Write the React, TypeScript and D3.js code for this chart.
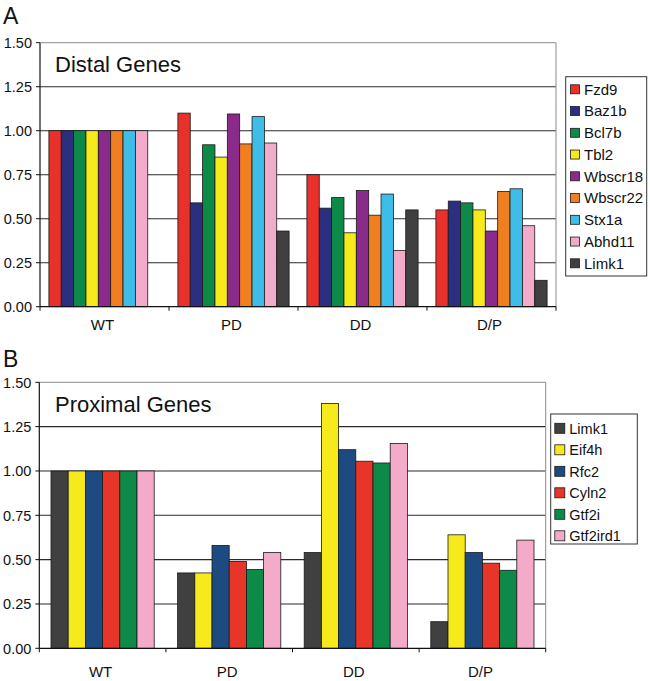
import React from "react";
import * as d3 from "d3";

const categories = ["WT", "PD", "DD", "D/P"];
const yTicks = [0, 0.25, 0.5, 0.75, 1.0, 1.25, 1.5];

// Panel A – distal genes (values per category: WT, PD, DD, D/P)
const distalGenes = ["Fzd9", "Baz1b", "Bcl7b", "Tbl2", "Wbscr18", "Wbscr22", "Stx1a", "Abhd11", "Limk1"];
const distalColors = ["#e8312a", "#2c2e80", "#0e8a48", "#f6ea1c", "#8a2b8c", "#f07f22", "#3fbde9", "#f2abc9", "#404040"];
const fzd9 = [1.0, 1.1, 0.75, 0.55];
const baz1b = [1.0, 0.59, 0.56, 0.6];
const bcl7b = [1.0, 0.92, 0.62, 0.59];
const tbl2 = [1.0, 0.85, 0.42, 0.55];
const wbscr18 = [1.0, 1.095, 0.66, 0.43];
const wbscr22 = [1.0, 0.925, 0.52, 0.655];
const stx1a = [1.0, 1.08, 0.64, 0.67];
const abhd11 = [1.0, 0.93, 0.32, 0.46];
const limk1Distal = [null, 0.43, 0.55, 0.15];
const distalValues = [fzd9, baz1b, bcl7b, tbl2, wbscr18, wbscr22, stx1a, abhd11, limk1Distal];

// Panel B – proximal genes
const proximalGenes = ["Limk1", "Eif4h", "Rfc2", "Cyln2", "Gtf2i", "Gtf2ird1"];
const proximalColors = ["#404040", "#f6ea1c", "#1e4a82", "#e8352a", "#0e8a48", "#f3abc9"];
const limk1 = [1.0, 0.425, 0.54, 0.15];
const eif4h = [1.0, 0.425, 1.38, 0.64];
const rfc2 = [1.0, 0.58, 1.12, 0.54];
const cyln2 = [1.0, 0.49, 1.055, 0.48];
const gtf2i = [1.0, 0.445, 1.045, 0.44];
const gtf2ird1 = [1.0, 0.54, 1.155, 0.61];
const proximalValues = [limk1, eif4h, rfc2, cyln2, gtf2i, gtf2ird1];

const FONT = "'Liberation Sans', Arial, Helvetica, sans-serif";

type PanelProps = {
  letter: string;
  letterY: number;
  title: string;
  titleY: number;
  genes: string[];
  colors: string[];
  values: (number | null)[][];
  x0: number;
  x1: number;
  yTop: number;
  yBottom: number;
  outerPad: number;
  catLabelY: number;
  legend: { x: number; y: number; w: number; h: number; sw: number; rowY: number; rowStep: number; textX: number; fs: number };
};

function Panel(p: PanelProps) {
  const x = d3.scaleBand<string>().domain(categories).range([p.x0, p.x1]).paddingInner(0).paddingOuter(0);
  const xs = d3.scaleBand<string>().domain(p.genes).range([0, x.bandwidth()]).paddingInner(0).paddingOuter(p.outerPad);
  const y = d3.scaleLinear().domain([0, 1.5]).range([p.yBottom, p.yTop]);
  const L = p.legend;
  return (
    <g>
      <text x={3} y={p.letterY} fontSize={23} fontFamily={FONT} fill="#111">{p.letter}</text>
      {/* gridlines */}
      {yTicks.filter((t) => t > 0 && t < 1.5).map((t) => (
        <line key={t} x1={p.x0} x2={p.x1} y1={y(t)} y2={y(t)} stroke="#2a2a2a" strokeWidth={1.1} />
      ))}
      {/* top and right border */}
      <line x1={p.x0} x2={p.x1} y1={y(1.5)} y2={y(1.5)} stroke="#8c8c8c" strokeWidth={1} />
      <line x1={p.x1} x2={p.x1} y1={y(1.5)} y2={y(0)} stroke="#8c8c8c" strokeWidth={1} />
      <text x={55} y={p.titleY} fontSize={22} fontFamily={FONT} fill="#111">{p.title}</text>
      {/* bars */}
      {categories.map((c, ci) =>
        p.genes.map((g, gi) => {
          const v = p.values[gi][ci];
          if (v == null) return null;
          return (
            <rect
              key={c + g}
              x={(x(c) as number) + (xs(g) as number)}
              y={y(v)}
              width={xs.bandwidth()}
              height={y(0) - y(v)}
              fill={p.colors[gi]}
              stroke="#1a1a1a"
              strokeWidth={0.8}
            />
          );
        })
      )}
      {/* y axis */}
      <line x1={p.x0} x2={p.x0} y1={y(1.5)} y2={y(0)} stroke="#111" strokeWidth={1.2} />
      {yTicks.map((t) => (
        <g key={t}>
          <line x1={p.x0 - 4} x2={p.x0} y1={y(t)} y2={y(t)} stroke="#111" strokeWidth={1} />
          <text x={p.x0 - 8} y={y(t)} dy="0.36em" textAnchor="end" fontSize={14.5} fontFamily={FONT} fill="#111">
            {t.toFixed(2)}
          </text>
        </g>
      ))}
      {/* x axis */}
      <line x1={p.x0} x2={p.x1} y1={y(0)} y2={y(0)} stroke="#111" strokeWidth={1.2} />
      {categories.map((c) => (
        <g key={c}>
          <line x1={(x(c) as number) + x.bandwidth()} x2={(x(c) as number) + x.bandwidth()} y1={y(0)} y2={y(0) + 4} stroke="#111" strokeWidth={1} />
          <text x={(x(c) as number) + x.bandwidth() / 2 - 2} y={p.catLabelY} textAnchor="middle" fontSize={15} fontFamily={FONT} fill="#111">
            {c}
          </text>
        </g>
      ))}
      <line x1={p.x0} x2={p.x0} y1={y(0)} y2={y(0) + 4} stroke="#111" strokeWidth={1} />
      {/* legend */}
      <rect x={L.x} y={L.y} width={L.w} height={L.h} fill="#fff" stroke="#333" strokeWidth={1} />
      {p.genes.map((g, gi) => {
        const cy = L.rowY + gi * L.rowStep;
        return (
          <g key={g}>
            <rect x={L.textX - L.sw - 4.5} y={cy - L.sw / 2} width={L.sw} height={L.sw} fill={p.colors[gi]} stroke="#1a1a1a" strokeWidth={0.8} />
            <text x={L.textX} y={cy} dy="0.36em" fontSize={L.fs} fontFamily={FONT} fill="#111">{g}</text>
          </g>
        );
      })}
    </g>
  );
}

export default function App() {
  return (
    <svg width={650} height={681} style={{ position: "absolute", left: 0, top: 0, background: "#fff" }}>
      <rect width={650} height={681} fill="#fff" />
      <Panel
        letter="A"
        letterY={24}
        title="Distal Genes"
        titleY={71.7}
        genes={distalGenes}
        colors={distalColors}
        values={distalValues}
        x0={40}
        x1={556}
        yTop={42.7}
        yBottom={306.7}
        outerPad={0.72}
        catLabelY={330}
        legend={{ x: 565.7, y: 76.7, w: 81, h: 199.3, sw: 9, rowY: 89.3, rowStep: 21.75, textX: 584, fs: 15 }}
      />
      <Panel
        letter="B"
        letterY={366.5}
        title="Proximal Genes"
        titleY={411.7}
        genes={proximalGenes}
        colors={proximalColors}
        values={proximalValues}
        x0={39.3}
        x1={545.7}
        yTop={382.3}
        yBottom={648.3}
        outerPad={0.68}
        catLabelY={676.5}
        legend={{ x: 550.7, y: 414, w: 86.6, h: 130, sw: 10, rowY: 428.3, rowStep: 21.5, textX: 569.3, fs: 14.5 }}
      />
    </svg>
  );
}
